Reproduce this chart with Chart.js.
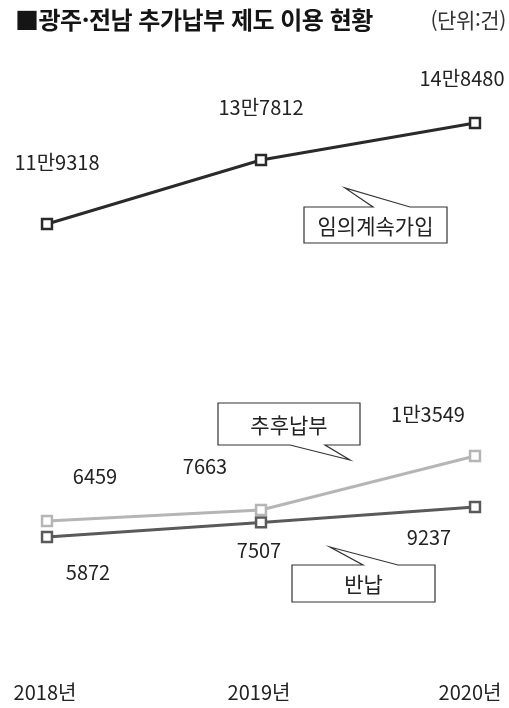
<!DOCTYPE html>
<html lang="ko">
<head>
<meta charset="utf-8">
<script src="https://cdn.jsdelivr.net/npm/chart.js@4.4.1/dist/chart.umd.min.js"></script>
<style>
  body { margin: 0; background: #fff; }
  #wrap { position: relative; width: 509px; height: 708px; font-family: "Noto Sans CJK KR", sans-serif; }
  #title { position: absolute; left: 15px; top: 1px; font-size: 24px; font-weight: bold; color: #151515; letter-spacing: -0.5px; }
  #unit { position: absolute; right: 3px; top: 4px; font-size: 21px; color: #333; letter-spacing: -0.4px; }
  canvas { position: absolute; left: 0; top: 0; }
</style>
</head>
<body>
<div id="wrap">
  <canvas id="chart" width="509" height="708"></canvas>
  <div id="title">■광주·전남 추가납부 제도 이용 현황</div>
  <div id="unit">(단위:건)</div>
</div>
<script>
  // Data (건)
  const years = ['2018년', '2019년', '2020년'];
  const contValues = [119318, 137812, 148480];   // 임의계속가입
  const laterValues = [6459, 7663, 13549];       // 추후납부
  const returnValues = [5872, 7507, 9237];       // 반납

  const FONT = '"Noto Sans CJK KR", sans-serif';

  // 11만9318 style formatting
  function fmt(v) {
    if (v < 10000) return String(v);
    return Math.floor(v / 10000) + '만' + String(v % 10000).padStart(4, '0');
  }

  // label offsets from each point, per dataset
  const labelOffsets = [
    [[10, -62], [0, -53], [-13, -45]],
    [[48, -45], [-56, -44], [-47, -42]],
    [[41, 35], [-2, 28], [-46, 30]]
  ];

  // callout boxes: box rect, tail (x1, x2 on edge, tip), side of tail
  const callouts = [
    { text: '임의계속가입', x: 304, y: 207, w: 143, h: 36, t1: 373, t2: 410, tip: [345, 188], side: 'top' },
    { text: '추후납부', x: 218, y: 403, w: 142, h: 42, t1: 290, t2: 325, tip: [350, 460], side: 'bottom' },
    { text: '반납', x: 292, y: 565, w: 143, h: 37, t1: 363, t2: 398, tip: [330, 547], side: 'top' }
  ];

  const labelPlugin = {
    id: 'labels',
    afterDatasetsDraw(chart) {
      const ctx = chart.ctx;
      ctx.save();
      ctx.font = '20px ' + FONT;
      ctx.fillStyle = '#222';
      ctx.textAlign = 'center';
      ctx.textBaseline = 'middle';
      chart.data.datasets.forEach((ds, i) => {
        const meta = chart.getDatasetMeta(i);
        meta.data.forEach((pt, j) => {
          const off = labelOffsets[i][j];
          ctx.fillText(fmt(ds.data[j]), pt.x + off[0], pt.y + off[1]);
        });
      });

      // year labels along the bottom
      const xs = chart.scales.x;
      chart.data.labels.forEach((lab, j) => {
        const x = xs.getPixelForValue(j);
        ctx.fillText(lab, x - 2 + (j === 2 ? -3 : 0), 692);
      });

      // callouts
      ctx.font = '21px ' + FONT;
      callouts.forEach(c => {
        ctx.beginPath();
        if (c.side === 'top') {
          ctx.moveTo(c.x, c.y);
          ctx.lineTo(c.t1, c.y);
          ctx.lineTo(c.tip[0], c.tip[1]);
          ctx.lineTo(c.t2, c.y);
          ctx.lineTo(c.x + c.w, c.y);
          ctx.lineTo(c.x + c.w, c.y + c.h);
          ctx.lineTo(c.x, c.y + c.h);
        } else {
          ctx.moveTo(c.x, c.y);
          ctx.lineTo(c.x + c.w, c.y);
          ctx.lineTo(c.x + c.w, c.y + c.h);
          ctx.lineTo(c.t2, c.y + c.h);
          ctx.lineTo(c.tip[0], c.tip[1]);
          ctx.lineTo(c.t1, c.y + c.h);
          ctx.lineTo(c.x, c.y + c.h);
        }
        ctx.closePath();
        ctx.fillStyle = '#fff';
        ctx.fill();
        ctx.lineWidth = 1.2;
        ctx.strokeStyle = '#333';
        ctx.stroke();
        ctx.fillStyle = '#222';
        ctx.fillText(c.text, c.x + c.w / 2, c.y + c.h / 2 + 1);
      });
      ctx.restore();
    }
  };

  function lineSet(label, data, color, axis) {
    return {
      label: label,
      data: data,
      yAxisID: axis,
      borderColor: color,
      borderWidth: 3,
      pointStyle: 'rect',
      pointRadius: 7,
      pointBorderWidth: 2.5,
      pointBackgroundColor: '#fff',
      pointBorderColor: color,
      tension: 0
    };
  }

  new Chart(document.getElementById('chart'), {
    type: 'line',
    data: {
      labels: years,
      datasets: [
        lineSet('임의계속가입', contValues, '#2a2a2a', 'yTop'),
        lineSet('추후납부', laterValues, '#b5b5b5', 'yLater'),
        lineSet('반납', returnValues, '#5a5a5a', 'yReturn')
      ]
    },
    options: {
      responsive: false,
      animation: false,
      layout: { autoPadding: false, padding: { left: 47, right: 34, top: 0, bottom: 0 } },
      plugins: { legend: { display: false }, tooltip: { enabled: false } },
      scales: {
        x: { display: false },
        yTop: { display: false, min: -20429, max: 183994 },
        yLater: { display: false, min: -13938, max: 63287 },
        yReturn: { display: false, min: -13309, max: 66107 }
      }
    },
    plugins: [labelPlugin]
  });
</script>
</body>
</html>
